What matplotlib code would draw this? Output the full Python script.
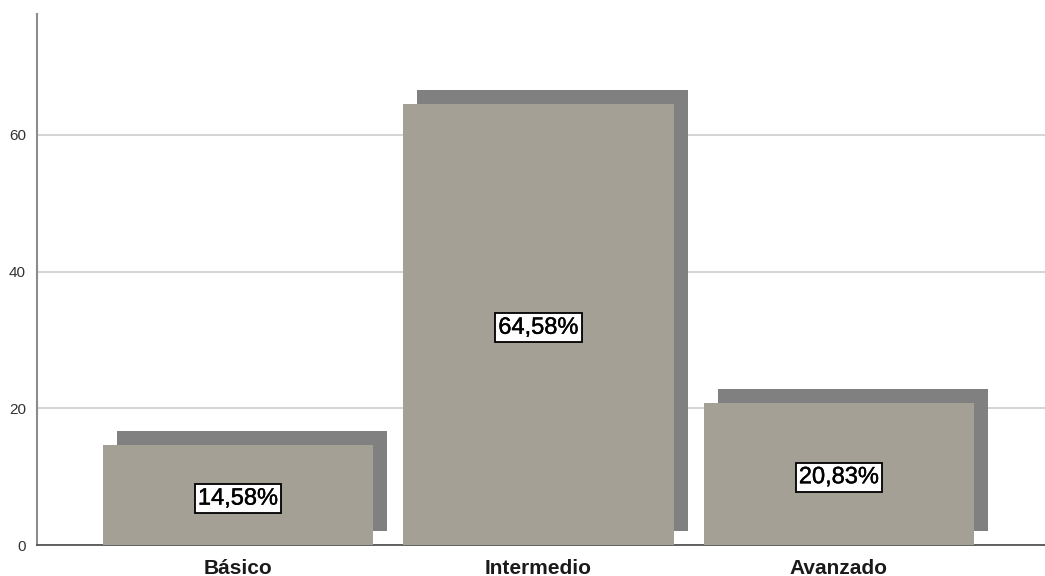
import matplotlib.pyplot as plt
import matplotlib as mpl
import matplotlib.patheffects as pe

# data
categories = ['Básico', 'Intermedio', 'Avanzado']
percent = [14.58, 64.58, 20.83]
labels = ['14,58%', '64,58%', '20,83%']

plt.rcParams['font.family'] = ['Liberation Sans', 'DejaVu Sans']
mpl.rcParams['hatch.linewidth'] = 0.5
mpl.rcParams['hatch.color'] = '#b0aba2'

fig = plt.figure(figsize=(10.45, 5.76), dpi=100)
ax = fig.add_axes([0.0354, 0.0538, 0.9646, 0.9219])

x = list(range(len(categories)))
width = 0.9
# 3D shadow offset (up and right)
dx = 0.0466
dy = 2.05

ax.bar([i + dx for i in x], percent, width=width, bottom=dy,
       color='#808080', zorder=2)
ax.bar(x, percent, width=width, color='#a5a096', hatch='....',
       edgecolor='#a5a096', linewidth=0, zorder=3)

for i, v in enumerate(percent):
    ax.text(x[i], v / 2 - 0.5, labels[i], ha='center', va='center', fontsize=17,
            color='black', zorder=5,
            path_effects=[pe.withStroke(linewidth=0.3, foreground='black')],
            bbox=dict(boxstyle='square,pad=0.14', facecolor='white',
                      edgecolor='black', linewidth=1.3))

ax.set_xlim(-0.669, 2.686)
ax.set_ylim(0, 77.7)
ax.set_yticks([0, 20, 40, 60])
ax.set_xticks(x)
ax.set_xticklabels(categories, fontsize=15, fontweight='bold', color='#1a1a1a')
ax.tick_params(axis='y', length=0, labelsize=11, labelcolor='#333333', pad=8)
ax.tick_params(axis='x', length=0, pad=10)

ax.yaxis.grid(True, color='#d4d4d4', linewidth=1.4, zorder=0)
ax.set_axisbelow(True)

ax.spines['top'].set_visible(False)
ax.spines['right'].set_visible(False)
ax.spines['left'].set_color('#8c8c8c')
ax.spines['left'].set_linewidth(1.5)
ax.spines['bottom'].set_color('#555555')
ax.spines['bottom'].set_linewidth(1.3)

fig.savefig('out.png', dpi=100)
